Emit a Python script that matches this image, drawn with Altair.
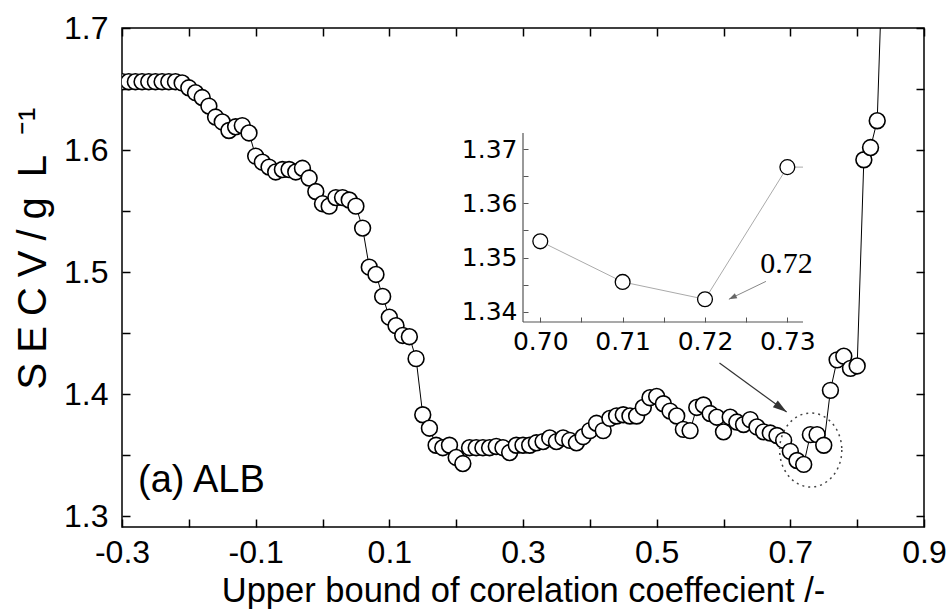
import altair as alt
import pandas as pd

# ---------------- data ----------------
r_vals = [round(-0.30 + 0.01 * i, 2) for i in range(115)]
secv = [
    1.656, 1.656, 1.656, 1.656, 1.656, 1.656, 1.656, 1.656, 1.656,      # -0.30 .. -0.22
    1.655, 1.651, 1.647, 1.643, 1.636, 1.627, 1.623, 1.616, 1.619, 1.620,  # -0.21 .. -0.12
    1.614, 1.595, 1.590, 1.586, 1.582, 1.584, 1.584, 1.582, 1.585, 1.577,  # -0.11 .. -0.02
    1.566, 1.556, 1.554, 1.561, 1.561, 1.559, 1.554, 1.536, 1.504, 1.498,  # -0.01 .. 0.08
    1.480, 1.463, 1.456, 1.448, 1.447, 1.429, 1.383, 1.372, 1.358, 1.356,  # 0.09 .. 0.18
    1.358, 1.348, 1.343, 1.356, 1.356, 1.356, 1.356, 1.357, 1.356, 1.352,  # 0.19 .. 0.28
    1.358, 1.358, 1.358, 1.360, 1.361, 1.364, 1.361, 1.364, 1.362, 1.360,  # 0.29 .. 0.38
    1.365, 1.370, 1.376, 1.370, 1.380, 1.382, 1.383, 1.382, 1.382, 1.389,  # 0.39 .. 0.48
    1.397, 1.398, 1.392, 1.386, 1.382, 1.371, 1.370, 1.389, 1.391, 1.384,  # 0.49 .. 0.58
    1.381, 1.369, 1.381, 1.377, 1.375, 1.379, 1.373, 1.369, 1.368, 1.366,  # 0.59 .. 0.68
    1.362, 1.353, 1.3455, 1.3423, 1.3667, 1.3667, 1.358, 1.403, 1.428, 1.431,  # 0.69 .. 0.78
    1.421, 1.423, 1.592, 1.602, 1.624, 1.790,                             # 0.79 .. 0.84
]

x_ticks = [round(-0.3 + 0.1 * i, 1) for i in range(13)]
y_ticks = [round(1.3 + 0.05 * i, 2) for i in range(9)]
inset_x_ticks = [0.700, 0.705, 0.710, 0.715, 0.720, 0.725, 0.730]
inset_y_ticks = [1.340, 1.345, 1.350, 1.355, 1.360, 1.365, 1.370]

Y_TITLE = "S\u2005E\u2005C\u2005V\u2005/\u2005g\u2005\u2005L\u2005\u2005⁻¹"
X_TITLE = "Upper bound of corelation coeffecient /-"

df = pd.DataFrame({"r": r_vals, "secv": secv})

# ---------------- layout ----------------
W, H = 802, 499
FONT = "Liberation Sans"
TICKFONT = "Liberation Sans Narrow, Liberation Sans"
X_DOM = [-0.3, 0.9]
Y_DOM = [1.291, 1.7]
IX_DOM = [0.6979, 0.7319]
IY_DOM = [1.3381, 1.373]

xs = alt.Scale(domain=X_DOM, nice=False, zero=False)
ys = alt.Scale(domain=Y_DOM, nice=False, zero=False)
ixs = alt.Scale(domain=IX_DOM, range=[401, 681], nice=False, zero=False, clamp=True)
iys = alt.Scale(domain=IY_DOM, range=[294, 105], nice=False, zero=False, clamp=True)

x_axis = alt.Axis(
    orient="bottom", values=x_ticks,
    labelExpr="abs(round(datum.value*10))%2==1 ? (datum.value<0?'-':'') + format(abs(datum.value),'.1f') : ''",
    offset=-8, tickSize=8, tickWidth=1.5, tickColor="black", domain=False, grid=False,
    labelFont=TICKFONT, labelFontSize=32, labelColor="black", labelPadding=10, labelFlush=False,
    title=X_TITLE, titleFont=FONT, titleFontSize=34.5,
    titleFontWeight="normal", titleColor="black", titlePadding=6,
)
y_axis = alt.Axis(
    orient="left", values=y_ticks,
    labelExpr="round(datum.value*100)%10==0 ? format(datum.value,'.1f') : ''",
    offset=-8, tickSize=8, tickWidth=1.5, tickColor="black", domain=False, grid=False,
    labelFont=TICKFONT, labelFontSize=32, labelColor="black", labelPadding=14, labelFlush=False,
    title=Y_TITLE, titleFont=FONT, titleFontSize=40, titleY=220,
    titleFontWeight="normal", titleColor="black", titlePadding=10,
)

def mx(field):
    return alt.X(field, type="quantitative", scale=xs, axis=x_axis)

def my(field):
    return alt.Y(field, type="quantitative", scale=ys, axis=y_axis)

main_line = alt.Chart(df).mark_line(color="black", strokeWidth=1, clip=True).encode(
    x=mx("r"), y=my("secv"))
main_pts = alt.Chart(df).mark_point(
    shape="circle", filled=True, fill="white", stroke="black", strokeWidth=1.6,
    size=250, opacity=1, clip=True).encode(x=mx("r"), y=my("secv"))

label_df = pd.DataFrame({"x": [-0.276], "y": [1.3197], "t": ["(a) ALB"]})
label = alt.Chart(label_df).mark_text(
    align="left", baseline="alphabetic", font=FONT, fontSize=38, color="black").encode(
    x=mx("x"), y=my("y"), text="t:N")

arrow_df = pd.DataFrame({"x": [0.594], "y": [1.4254], "x2": [0.6945], "y2": [1.3852]})
arrow_line = alt.Chart(arrow_df).mark_rule(color="#333", strokeWidth=1.2).encode(
    x=mx("x"), y=my("y"), x2="x2:Q", y2="y2:Q")
arrow_head = alt.Chart(arrow_df).mark_point(
    shape="M0,0L-2,-0.6L-2,0.6Z", filled=True, color="#333", size=196, angle=36, opacity=1).encode(
    x=mx("x2"), y=my("y2"))

ell_df = pd.DataFrame({"x": [0.7305], "y": [1.3541]})
ellipse = alt.Chart(ell_df).mark_point(
    shape="M0.84,0C0.84,0.5523 0.464,1 0,1C-0.464,1 -0.84,0.5523 -0.84,0C-0.84,-0.5523 -0.464,-1 0,-1C0.464,-1 0.84,-0.5523 0.84,0Z",
    filled=False, stroke="#444", strokeWidth=1.5, strokeDash=[2, 4], size=5476, opacity=1).encode(
    x=mx("x"), y=my("y"))

main = alt.layer(main_line, main_pts, label, arrow_line, arrow_head, ellipse)

# frame ticks on top and right
frame = alt.Chart(df).mark_point(opacity=0).encode(
    x=alt.X("r:Q", scale=xs, axis=alt.Axis(
        orient="top", values=x_ticks, labels=False, offset=-8, tickSize=8, tickWidth=1.5,
        tickColor="black", domain=False, grid=False, title="")),
    y=alt.Y("secv:Q", scale=ys, axis=alt.Axis(
        orient="right", values=y_ticks, labels=False, offset=-8, tickSize=8, tickWidth=1.5,
        tickColor="black", domain=False, grid=False, title="")),
)

# ---------------- inset ----------------
ix_axis = alt.Axis(
    orient="bottom", values=inset_x_ticks,
    labelExpr="round(datum.value*1000)%10==0 ? format(datum.value,'.2f') : ''",
    offset=-210, tickSize=5, tickColor="#555", domain=False, grid=False,
    labelFont="DejaVu Sans", labelFontSize=25, labelColor="black", labelPadding=7,
    labelFlush=False, title="")
iy_axis = alt.Axis(
    orient="left", values=inset_y_ticks,
    labelExpr="round(datum.value*1000)%10==0 ? format(datum.value,'.2f') : ''",
    offset=-406, tickSize=5, tickColor="#555", domain=False, grid=False,
    labelFont="DejaVu Sans", labelFontSize=25, labelColor="black", labelPadding=6,
    labelFlush=False, title="")

def ix(field):
    return alt.X(field, type="quantitative", scale=ixs, axis=ix_axis)

def iy(field):
    return alt.Y(field, type="quantitative", scale=iys, axis=iy_axis)

frame_df = pd.DataFrame({"x": [IX_DOM[0], IX_DOM[0]], "y": [IY_DOM[0], IY_DOM[0]],
                         "x2": [IX_DOM[1], IX_DOM[0]], "y2": [IY_DOM[0], IY_DOM[1]]})
inset_frame = alt.Chart(frame_df).mark_rule(color="#555", strokeWidth=1.2).encode(
    x=ix("x"), y=iy("y"), x2="x2:Q", y2="y2:Q")

inset_line = alt.Chart(df).transform_filter(
    "datum.r > 0.695 && datum.r < 0.745").mark_line(color="#aaa", strokeWidth=1).encode(
    x=ix("r"), y=iy("secv"))
inset_pts = alt.Chart(df).transform_filter(
    "datum.r > 0.695 && datum.r < 0.735").mark_point(
    shape="circle", filled=True, fill="white", stroke="black", strokeWidth=1.3,
    size=220, opacity=1).encode(x=ix("r"), y=iy("secv"))

itext_df = pd.DataFrame({"x": [0.7299], "y": [1.3471], "t": ["0.72"]})
inset_text = alt.Chart(itext_df).mark_text(
    align="center", baseline="alphabetic", font="Liberation Serif", fontSize=30,
    color="black").encode(x=ix("x"), y=iy("y"), text="t:N")

iarrow_df = pd.DataFrame({"x": [0.7274], "y": [1.3456], "x2": [0.7229], "y2": [1.3423]})
iarrow_line = alt.Chart(iarrow_df).mark_rule(color="#888", strokeWidth=1).encode(
    x=ix("x"), y=iy("y"), x2="x2:Q", y2="y2:Q")
iarrow_head = alt.Chart(iarrow_df).mark_point(
    shape="M0,0L-2,-0.7L-2,0.7Z", filled=True, color="#666", size=64, angle=154, opacity=1).encode(
    x=ix("x2"), y=iy("y2"))

inset = alt.layer(inset_frame, inset_line, inset_pts, inset_text, iarrow_line, iarrow_head)

chart = alt.layer(main, frame, inset).resolve_scale(
    x="independent", y="independent"
).properties(
    width=W, height=H,
    autosize=alt.AutoSizeParams(type="none"),
    padding={"left": 122, "top": 28, "right": 27, "bottom": 85},
    background="white",
).configure_view(stroke="black", strokeWidth=1.5)

chart.save("out.html", embed_options={"renderer": "svg", "actions": False})
